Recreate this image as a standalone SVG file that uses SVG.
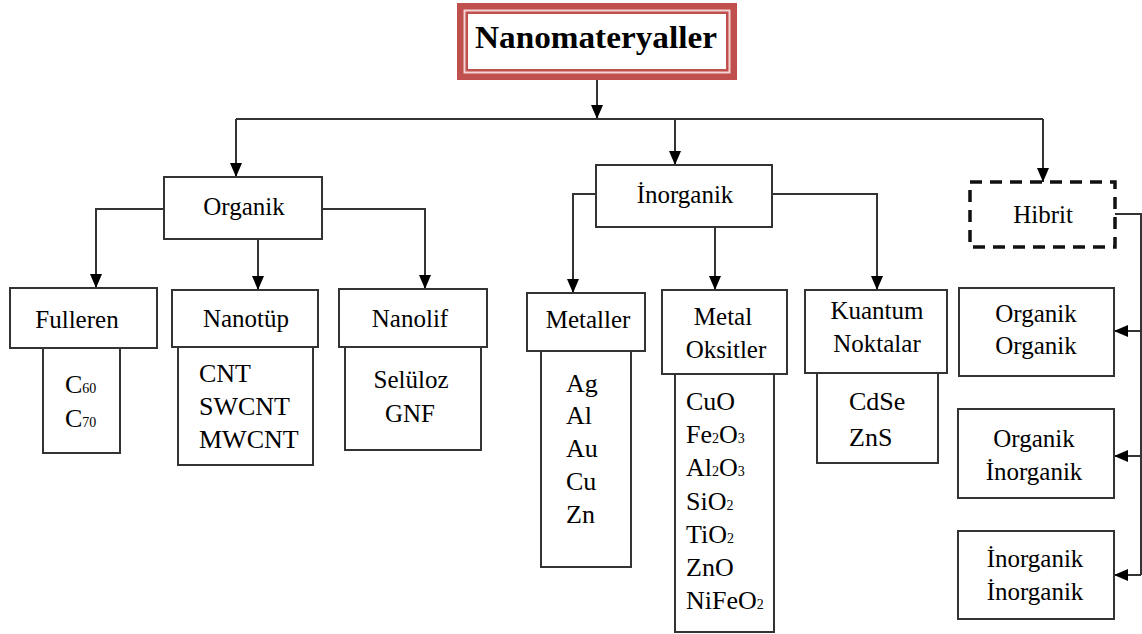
<svg xmlns="http://www.w3.org/2000/svg" width="1142" height="634" viewBox="0 0 1142 634">
<style>
.box{fill:#fff;stroke:#333;stroke-width:2}
.dash{fill:#fff;stroke:#111;stroke-width:3.5;stroke-dasharray:12 8}
.ln{fill:none;stroke:#333;stroke-width:2}
.lb{font-family:"Liberation Serif","Times New Roman",serif;font-size:25px;fill:#000;text-anchor:middle}
.it{font-family:"Liberation Serif","Times New Roman",serif;font-size:26px;fill:#000}
.sub{font-size:14px}
.title{font-family:"Liberation Serif","Times New Roman",serif;font-size:31px;font-weight:bold;fill:#000;text-anchor:middle}
</style>
<defs>
<marker id="ar" viewBox="0 0 14 12" refX="14" refY="6" markerWidth="14" markerHeight="12" markerUnits="userSpaceOnUse" orient="auto">
<path d="M0,0 L14,6 L0,12 Z" fill="#000"/>
</marker>
</defs>
<rect width="1142" height="634" fill="#fff"/>

<g id="connectors">
<path class="ln" d="M597,80 V119" marker-end="url(#ar)"/>
<path class="ln" d="M236,119 H1043"/>
<path class="ln" d="M236,119 V177" marker-end="url(#ar)"/>
<path class="ln" d="M675,119 V165" marker-end="url(#ar)"/>
<path class="ln" d="M1043,119 V182" marker-end="url(#ar)"/>
<path class="ln" d="M164,209 H96 V288" marker-end="url(#ar)"/>
<path class="ln" d="M258,239 V290" marker-end="url(#ar)"/>
<path class="ln" d="M322,209 H425 V289" marker-end="url(#ar)"/>
<path class="ln" d="M596,194 H573 V293" marker-end="url(#ar)"/>
<path class="ln" d="M715,227 V290" marker-end="url(#ar)"/>
<path class="ln" d="M772,194 H877 V290" marker-end="url(#ar)"/>
<path class="ln" d="M1115,214 H1141 V575"/>
<path class="ln" d="M1141,331 H1114" marker-end="url(#ar)"/>
<path class="ln" d="M1141,456 H1114" marker-end="url(#ar)"/>
<path class="ln" d="M1141,575 H1114" marker-end="url(#ar)"/>
</g>

<g id="nanomateryaller">
<rect x="457" y="3" width="280" height="77" fill="#c0504d"/>
<rect x="464.5" y="10.5" width="265" height="62" fill="none" stroke="#f2d4d3" stroke-width="2"/>
<rect x="467" y="13" width="260" height="57" fill="#fff" stroke="#c0504d" stroke-width="2"/>
<text class="title" x="596" y="48" textLength="242" lengthAdjust="spacingAndGlyphs">Nanomateryaller</text>
</g>

<g id="organik">
<rect class="box" x="164" y="177" width="158" height="62"/>
<text class="lb" x="244" y="215">Organik</text>
</g>

<g id="fulleren">
<rect class="box" x="43" y="348" width="77" height="105"/>
<rect class="box" x="10" y="288" width="147" height="60"/>
<text class="lb" x="77" y="328">Fulleren</text>
<text class="it" x="65" y="393" font-size="25">C<tspan class="sub">60</tspan></text>
<text class="it" x="65" y="427" font-size="25">C<tspan class="sub">70</tspan></text>
</g>

<g id="nanotup">
<rect class="box" x="178" y="347" width="135" height="118"/>
<rect class="box" x="172" y="290" width="146" height="57"/>
<text class="lb" x="246" y="327">Nanotüp</text>
<text class="it" x="199" y="382">CNT</text>
<text class="it" x="199" y="415">SWCNT</text>
<text class="it" x="199" y="448">MWCNT</text>
</g>

<g id="nanolif">
<rect class="box" x="345" y="347" width="136" height="103"/>
<rect class="box" x="339" y="289" width="148" height="58"/>
<text class="lb" x="410" y="327">Nanolif</text>
<text class="lb" x="411" y="388">Selüloz</text>
<text class="lb" x="410" y="422">GNF</text>
</g>

<g id="inorganik">
<rect class="box" x="596" y="165" width="176" height="62"/>
<text class="lb" x="685" y="203">İnorganik</text>
</g>

<g id="metaller">
<rect class="box" x="541" y="351" width="90" height="216"/>
<rect class="box" x="527" y="293" width="118" height="58"/>
<text class="lb" x="588" y="328">Metaller</text>
<text class="it" x="566" y="392">Ag</text>
<text class="it" x="566" y="424">Al</text>
<text class="it" x="566" y="457">Au</text>
<text class="it" x="566" y="490">Cu</text>
<text class="it" x="566" y="523">Zn</text>
</g>

<g id="metal-oksitler">
<rect class="box" x="675" y="374" width="99" height="258"/>
<rect class="box" x="662" y="290" width="125" height="84"/>
<text class="lb" x="723" y="325">Metal</text>
<text class="lb" x="726" y="358">Oksitler</text>
<text class="it" x="686" y="410">CuO</text>
<text class="it" x="686" y="443">Fe<tspan class="sub">2</tspan>O<tspan class="sub">3</tspan></text>
<text class="it" x="686" y="476">Al<tspan class="sub">2</tspan>O<tspan class="sub">3</tspan></text>
<text class="it" x="686" y="510">SiO<tspan class="sub">2</tspan></text>
<text class="it" x="686" y="543">TiO<tspan class="sub">2</tspan></text>
<text class="it" x="686" y="576">ZnO</text>
<text class="it" x="686" y="609">NiFeO<tspan class="sub">2</tspan></text>
</g>

<g id="kuantum-noktalar">
<rect class="box" x="817" y="373" width="121" height="90"/>
<rect class="box" x="805" y="290" width="142" height="83"/>
<text class="lb" x="877" y="319">Kuantum</text>
<text class="lb" x="877" y="352">Noktalar</text>
<text class="it" x="849" y="410">CdSe</text>
<text class="it" x="849" y="446">ZnS</text>
</g>

<g id="hibrit">
<rect class="dash" x="970" y="182" width="145" height="65"/>
<text class="lb" x="1043" y="223">Hibrit</text>
</g>

<g id="organik-organik">
<rect class="box" x="959" y="288" width="155" height="88"/>
<text class="lb" x="1036" y="322">Organik</text>
<text class="lb" x="1036" y="354">Organik</text>
</g>

<g id="organik-inorganik">
<rect class="box" x="958" y="409" width="156" height="89"/>
<text class="lb" x="1034" y="447">Organik</text>
<text class="lb" x="1034" y="480">İnorganik</text>
</g>

<g id="inorganik-inorganik">
<rect class="box" x="958" y="531" width="156" height="88"/>
<text class="lb" x="1035" y="567">İnorganik</text>
<text class="lb" x="1035" y="600">İnorganik</text>
</g>
</svg>
